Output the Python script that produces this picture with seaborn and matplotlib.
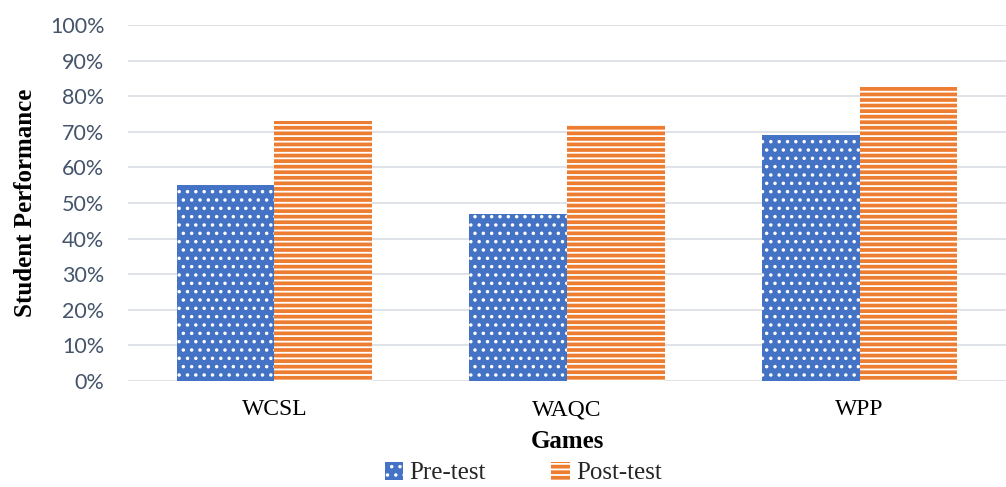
import matplotlib
matplotlib.use("Agg")
import matplotlib.pyplot as plt
import seaborn as sns
import pandas as pd
from matplotlib.patches import Patch
from matplotlib.ticker import PercentFormatter

# Student performance per game, before and after playing
games = ["WCSL", "WAQC", "WPP"]
pre_test = [55, 47, 69]
post_test = [73, 72, 83]
series_names = ["Pre-test", "Post-test"]
y_ticks = list(range(0, 101, 10))

blue = "#4472C4"
orange = "#ED7D31"

sns.set_theme(style="white")
plt.rcParams["hatch.linewidth"] = 1.3

df = pd.DataFrame({
    "Game": games * 2,
    "Score": pre_test + post_test,
    "Test": [series_names[0]] * len(games) + [series_names[1]] * len(games),
})

fig = plt.figure(figsize=(10.06, 4.87), dpi=100)
ax = fig.add_axes([128 / 1006, 106 / 487, 878 / 1006, 356 / 487])

sns.barplot(data=df, x="Game", y="Score", hue="Test", order=games,
            hue_order=series_names, palette=[blue, orange], width=2 / 3,
            gap=0, legend=False, ax=ax, saturation=1)

hatches = ["..", "---"]
for container, hatch in zip(ax.containers, hatches):
    for bar in container:
        bar.set_hatch(hatch)
        bar.set_edgecolor("white")
        bar.set_linewidth(0)

ax.set_ylim(0, 100)
ax.set_xlim(-0.5, len(games) - 0.5)
ax.set_yticks(y_ticks)
ax.yaxis.set_major_formatter(PercentFormatter(decimals=0))
ax.grid(axis="y", color="#D9DDE3", linewidth=1.2)
ax.set_axisbelow(True)
for side in ["top", "right", "left", "bottom"]:
    ax.spines[side].set_visible(False)

ax.tick_params(axis="y", length=0, pad=17, labelsize=15.5, labelcolor="#44546A")
for lbl in ax.get_yticklabels():
    lbl.set_family("Lato")
ax.tick_params(axis="x", length=0, pad=13)
for lbl in ax.get_xticklabels():
    lbl.set_family("Liberation Serif")
    lbl.set_fontsize(17)
    lbl.set_color("black")

ax.set_xlabel("Games", family="Liberation Serif", fontsize=18,
              fontweight="bold", color="black", labelpad=7)
ax.set_ylabel("Student Performance", family="Liberation Serif", fontsize=18,
              fontweight="bold", color="black", labelpad=9)

handles = [
    Patch(facecolor=blue, edgecolor="white", linewidth=0, hatch=".."),
    Patch(facecolor=orange, edgecolor="white", linewidth=0, hatch="---"),
]
fig.legend(handles, series_names, loc="center", bbox_to_anchor=(0.52, 1 - 473 / 487),
           ncol=2, frameon=False, handlelength=0.75, handleheight=0.75,
           handletextpad=0.25, columnspacing=2.6,
           prop={"family": "Liberation Serif", "size": 18})

fig.savefig("out.png", dpi=100, facecolor="white")
